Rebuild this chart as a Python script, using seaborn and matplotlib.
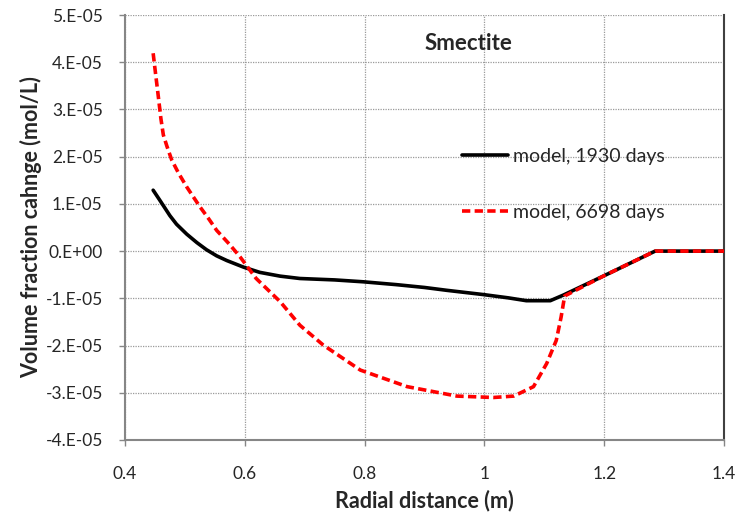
import numpy as np
import pandas as pd
import seaborn as sns
import matplotlib.pyplot as plt

# radial distance (m) and volume fraction change (mol/L)
x_1930 = [0.447, 0.458, 0.475, 0.486, 0.503, 0.520, 0.536, 0.553, 0.570, 0.598,
          0.625, 0.659, 0.692, 0.750, 0.798, 0.853, 0.900, 0.937, 0.998, 1.040,
          1.070, 1.110, 1.132, 1.200, 1.285, 1.400]
y_1930 = [1.29e-5, 1.08e-5, 0.75e-5, 0.57e-5, 0.36e-5, 0.18e-5, 0.03e-5, -0.10e-5,
          -0.20e-5, -0.34e-5, -0.45e-5, -0.53e-5, -0.58e-5, -0.61e-5, -0.65e-5,
          -0.71e-5, -0.77e-5, -0.83e-5, -0.92e-5, -0.99e-5, -1.05e-5, -1.05e-5,
          -0.93e-5, -0.52e-5, 0.0, 0.0]

x_6698 = [0.447, 0.451, 0.455, 0.460, 0.464, 0.470, 0.478, 0.489, 0.503, 0.525,
          0.540, 0.553, 0.574, 0.592, 0.619, 0.659, 0.692, 0.731, 0.793, 0.871,
          0.954, 1.015, 1.049, 1.082, 1.104, 1.120, 1.128, 1.134, 1.200, 1.285,
          1.400]
y_6698 = [4.19e-5, 3.76e-5, 3.34e-5, 2.80e-5, 2.46e-5, 2.22e-5, 1.93e-5, 1.66e-5,
          1.36e-5, 0.94e-5, 0.68e-5, 0.44e-5, 0.15e-5, -0.12e-5, -0.58e-5, -1.07e-5,
          -1.57e-5, -1.99e-5, -2.52e-5, -2.87e-5, -3.07e-5, -3.10e-5, -3.07e-5,
          -2.87e-5, -2.38e-5, -1.89e-5, -1.40e-5, -0.95e-5, -0.52e-5, 0.0, 0.0]

x_ticks = [0.4, 0.6, 0.8, 1.0, 1.2, 1.4]
x_ticklabels = ['0.4', '0.6', '0.8', '1', '1.2', '1.4']
y_ticks = [5e-5, 4e-5, 3e-5, 2e-5, 1e-5, 0.0, -1e-5, -2e-5, -3e-5, -4e-5]
y_ticklabels = ['5.E-05', '4.E-05', '3.E-05', '2.E-05', '1.E-05', '0.E+00',
                '-1.E-05', '-2.E-05', '-3.E-05', '-4.E-05']

sns.set_style('white')
plt.rcParams['font.family'] = ['Lato', 'DejaVu Sans']

df1 = pd.DataFrame({'x': x_1930, 'y': y_1930})
df2 = pd.DataFrame({'x': x_6698, 'y': y_6698})

fig = plt.figure(figsize=(7.38, 5.15), dpi=100)
ax = fig.add_axes([125 / 738, 75 / 515, 599 / 738, 425 / 515])

sns.lineplot(data=df1, x='x', y='y', ax=ax, color='black', linewidth=2.6,
             sort=False, label='model, 1930 days', zorder=3)
sns.lineplot(data=df2, x='x', y='y', ax=ax, color='#ff0000', linewidth=2.6,
             sort=False, label='model, 6698 days', zorder=4)
ax.lines[1].set_dashes([2.3, 1.2])

ax.set_xlim(0.4, 1.4)
ax.set_ylim(-4e-5, 5e-5)
ax.set_xticks(x_ticks)
ax.set_xticklabels(x_ticklabels)
ax.set_yticks(y_ticks)
ax.set_yticklabels(y_ticklabels)
ax.tick_params(axis='both', labelsize=12.5, length=4, width=1, color='#868686',
               direction='out', left=True, bottom=True)
ax.tick_params(axis='y', pad=12)
ax.tick_params(axis='x', pad=15)

ax.grid(True, linestyle=(0, (1, 1)), color='#9a9a9a', linewidth=0.9)
for side in ['left', 'bottom']:
    ax.spines[side].set_color('#868686')
    ax.spines[side].set_linewidth(1.5)
ax.spines['right'].set_color('#404040')
ax.spines['right'].set_linewidth(1.5)
ax.spines['top'].set_visible(False)

ax.set_xlabel('Radial distance (m)', fontsize=15.5, fontweight='bold', labelpad=5)
ax.set_ylabel('Volume fraction cahnge (mol/L)', fontsize=15.5, fontweight='bold', labelpad=2)

ax.text(0.573, 0.932, 'Smectite', transform=ax.transAxes, fontsize=16,
        fontweight='bold', ha='center', va='center')

leg = ax.legend(loc='center left', bbox_to_anchor=(0.533, 0.602), frameon=False,
                fontsize=14, handlelength=2.37, handletextpad=0.26, labelspacing=2.0)

fig.savefig('out.png', dpi=100)
